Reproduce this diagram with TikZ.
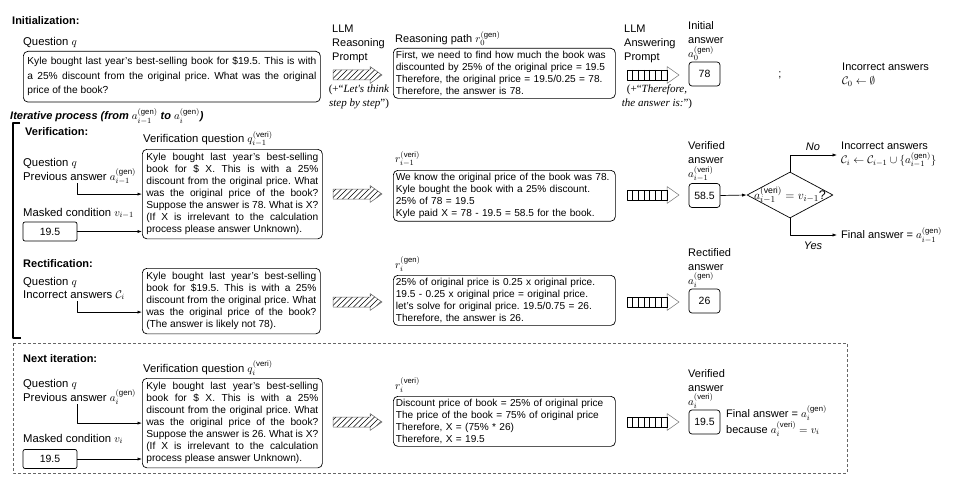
\documentclass[tikz,border=0pt]{standalone}
\usepackage{fontspec}
\setmainfont{Liberation Sans}
\newfontfamily\seriffont{Liberation Serif}
\usetikzlibrary{shapes.geometric,arrows.meta}
\AtBeginDocument{\frenchspacing}
\tikzset{
  hatcharrow/.pic={
    \begin{scope}
      \clip (0,-5) -- (37,-5) -- (37,-8.5) -- (49,0) -- (37,8.5) -- (37,5) -- (0,5) -- cycle;
      \foreach \k in {-16,-10.5,...,50} \draw[line width=0.55pt] (\k,8.5) -- ++(17,-17);
    \end{scope}
    \draw[black!60, line width=0.5pt] (0,-5) -- (37,-5) -- (37,-8.5) -- (49,0) -- (37,8.5) -- (37,5) -- (0,5) -- cycle;
  },
  stripearrow/.pic={
    \draw[black!55, fill=white, line width=0.5pt] (40,-8.5) -- (52,0) -- (40,8.5) -- cycle;
    \draw[line width=0.6pt] (0,-5) rectangle (40,5);
    \foreach \k in {5.7,11.4,...,35} \draw[line width=0.9pt] (\k,-5) -- (\k,5);
    \draw[line width=1pt] (40,-5) -- (40,5);
  },
}
\begin{document}
\begin{tikzpicture}[x=1pt,y=-1pt, line join=round,
  tl/.style={font=\fontsize{11}{14}\selectfont, inner sep=0pt},
  bl/.style={font=\fontsize{11.3}{14}\selectfont, inner sep=0pt},
  mlbl/.style={tl, align=left},
  hdr/.style={font=\fontsize{11}{14}\selectfont\bfseries, inner sep=0pt, anchor=west},
  qbox/.style={draw, rounded corners=4.5pt, line width=0.7pt, font=\fontsize{10.2}{12}\selectfont, align=justify, anchor=north west, inner xsep=4pt, inner ysep=4pt},
  rbox/.style={draw, rounded corners=4.5pt, line width=0.7pt, font=\fontsize{10.1}{11.8}\selectfont, align=left, anchor=north west, inner xsep=2.5pt, inner ysep=3pt, text width=217pt},
  abox/.style={draw, rounded corners=3pt, line width=0.7pt, font=\fontsize{10.5}{12}\selectfont, minimum width=31pt, minimum height=24pt, inner sep=0pt},
  mbox/.style={draw, rounded corners=2pt, line width=0.7pt, font=\fontsize{10.5}{12}\selectfont, minimum width=54pt, minimum height=19pt, inner sep=0pt},
  arr/.style={-{Latex[length=4.5pt,width=3.2pt]}, line width=0.7pt},
  ln/.style={line width=0.7pt},
  quot/.style={font=\seriffont\fontsize{11}{14}\selectfont, inner sep=0pt, align=center, anchor=north},
]
\useasboundingbox (0,0) rectangle (959,487);

% ---------- Initialization ----------
\node[hdr] (hinit) at (12,21) {Initialization:};
\node[bl, anchor=base west] (lq0) at (23,46) {Question $q$};
\node[qbox, text width=289pt, inner ysep=6pt, font=\fontsize{10.2}{14.5}\selectfont] (q0) at (23,51)
 {Kyle bought last year's best-selling book for \$19.5. This is with\linebreak a 25\% discount from the original price. What was the original\linebreak price of the book?};

\node[mlbl, anchor=north west] (llmr) at (332,25) {LLM\\Reasoning\\Prompt};
\pic at (333,75) {hatcharrow};
\node[quot] (cot) at (359,85) {(+“\textit{Let's think}\\\textit{step by step}”)};

\node[tl, anchor=south west] (lr0) at (395,46) {Reasoning path $r_0^{(\mathrm{gen})}$};
\node[rbox] (r0) at (393,48) {First, we need to find how much the book was\\discounted by 25\% of the original price = 19.5\\Therefore, the original price = 19.5/0.25 = 78.\\Therefore, the answer is 78.};

\node[mlbl, anchor=north west] (llma) at (624,25) {LLM\\Answering\\Prompt};
\pic at (627,75) {stripearrow};
\node[quot] (thf) at (657,85) {(+“\textit{Therefore,}\\\textit{the answer is:}”)};

\node[mlbl, anchor=south west] (la0) at (688,61) {Initial\\answer\\$a_0^{(\mathrm{gen})}$};
\node[abox] (a0) at (704.5,74) {78};
\node[tl] (semi) at (780,75) {;};
\node[mlbl, anchor=west] (c0) at (842,75) {Incorrect answers\\$\mathcal{C}_0 \leftarrow \emptyset$};

% ---------- Iterative process ----------
\node[hdr, font=\fontsize{11}{14}\selectfont\bfseries\itshape] (hit) at (10,116) {Iterative process (from $a_{i-1}^{(\mathrm{gen})}$ to $a_i^{(\mathrm{gen})}$)};
\draw[line width=1.5pt] (20,123) -- (13,123) -- (13,338) -- (21,338);

% Verification
\node[hdr] (hver) at (25,132) {Verification:};
\node[bl, anchor=south west] (lvq1) at (143,147) {Verification question $q_{i-1}^{(\mathrm{veri})}$};
\node[bl, anchor=base west] (lq1) at (23,166) {Question $q$};
\node[bl, anchor=base west] (lp1) at (23,180) {Previous answer $a_{i-1}^{(\mathrm{gen})}$};
\node[qbox, text width=172pt] (vq1) at (142,149)
 {Kyle bought last year's best-selling\linebreak book for \$ X. This is with a 25\%\linebreak discount from the original price. What\linebreak was the original price of the book?\linebreak Suppose the answer is 78. What is X?\linebreak (If X is irrelevant to the calculation\linebreak process please answer Unknown).};
\coordinate (p1) at (77,183);
\draw[arr] (p1) |- (vq1.west);
\node[bl, anchor=base west] (lm1) at (23,216) {Masked condition $v_{i-1}$};
\node[mbox] (m1) at (50,231.5) {19.5};
\draw[arr] (m1) -- (m1 -| vq1.west);

\pic at (333,194) {hatcharrow};
\node[tl, anchor=south west] (lr1) at (395,167) {$r_{i-1}^{(\mathrm{veri})}$};
\node[rbox] (r1) at (393,170) {We know the original price of the book was 78.\\Kyle bought the book with a 25\% discount.\\25\% of 78 = 19.5\\Kyle paid X = 78 - 19.5 = 58.5 for the book.};
\pic at (627,195) {stripearrow};
\node[mlbl, anchor=south west] (la1) at (688,182) {Verified\\answer\\$a_{i-1}^{(\mathrm{veri})}$};
\node[abox] (a1) at (704.5,195.5) {58.5};
\node[diamond, draw, ln, minimum width=86pt, minimum height=46pt, inner sep=0pt] (dm) at (790,195) {};
\node[inner sep=0pt, font=\fontsize{12.5}{14}\selectfont] (dmt) at (dm.center) {$a_{i-1}^{(\mathrm{veri})} = v_{i-1}$?};
\draw[arr] (a1.east) -- (dm.west);
\node[mlbl, anchor=west, inner xsep=4pt] (ci) at (837,155) {Incorrect answers\\$\mathcal{C}_i \leftarrow \mathcal{C}_{i-1} \cup \{a_{i-1}^{(\mathrm{gen})}\}$};
\draw[arr] (dm.north) |- (ci.west);
\node[tl, anchor=west, inner xsep=4pt] (fa1) at (837,235) {Final answer = $a_{i-1}^{(\mathrm{gen})}$};
\draw[arr] (dm.south) |- (fa1.west);
\node[tl, font=\fontsize{11}{14}\selectfont\itshape] (no) at (813,147) {No};
\node[tl, font=\fontsize{11}{14}\selectfont\itshape] (yes) at (813,246) {Yes};

% Rectification
\node[hdr] (hrec) at (23,264) {Rectification:};
\node[bl, anchor=base west] (lq2) at (23,285) {Question $q$};
\node[bl, anchor=base west] (lc2) at (23,298) {Incorrect answers $\mathcal{C}_i$};
\node[qbox, text width=170pt] (rq) at (142,268)
 {Kyle bought last year's best-selling\linebreak book for \$19.5. This is with a 25\%\linebreak discount from the original price. What\linebreak was the original price of the book?\linebreak (The answer is likely not 78).};
\coordinate (p2) at (77,301);
\path (rq.west) ++(0,11) coordinate (rqin);
\draw[arr] (p2) |- (rqin);

\pic at (333,302) {hatcharrow};
\node[tl, anchor=south west] (lr2) at (395,272) {$r_i^{(\mathrm{gen})}$};
\node[rbox] (r2) at (393,275) {25\% of original price is 0.25 x original price.\\19.5 - 0.25 x original price = original price.\\let's solve for original price. 19.5/0.75 = 26.\\Therefore, the answer is 26.};
\pic at (627,302) {stripearrow};
\node[mlbl, anchor=south west] (la2) at (688,288) {Rectified\\answer\\$a_i^{(\mathrm{gen})}$};
\node[abox] (a2) at (704.5,301) {26};

% ---------- Next iteration ----------
\draw[dash pattern=on 3pt off 2pt, black!60, line width=0.7pt] (13,343) rectangle (847,473);
\node[hdr] (hnext) at (23,359) {Next iteration:};
\node[bl, anchor=south west] (lvq3) at (143,376) {Verification question $q_i^{(\mathrm{veri})}$};
\node[bl, anchor=base west] (lq3) at (23,387) {Question $q$};
\node[bl, anchor=base west] (lp3) at (23,401) {Previous answer $a_i^{(\mathrm{gen})}$};
\node[qbox, text width=172pt] (vq3) at (142,378)
 {Kyle bought last year's best-selling\linebreak book for \$ X. This is with a 25\%\linebreak discount from the original price. What\linebreak was the original price of the book?\linebreak Suppose the answer is 26. What is X?\linebreak (If X is irrelevant to the calculation\linebreak process please answer Unknown).};
\coordinate (p3) at (77,404);
\draw[arr] (p3) |- (vq3.west);
\node[bl, anchor=base west] (lm3) at (23,442) {Masked condition $v_i$};
\node[mbox] (m3) at (50,459) {19.5};
\draw[arr] (m3) -- (m3 -| vq3.west);

\pic at (333,422) {hatcharrow};
\node[tl, anchor=south west] (lr3) at (395,393) {$r_i^{(\mathrm{veri})}$};
\node[rbox] (r3) at (393,396) {Discount price of book = 25\% of original price\\The price of the book = 75\% of original price\\Therefore, X = (75\% * 26)\\Therefore, X = 19.5};
\pic at (627,422) {stripearrow};
\node[mlbl, anchor=south west] (la3) at (688,409) {Verified\\answer\\$a_i^{(\mathrm{veri})}$};
\node[abox] (a3) at (704.5,422) {19.5};
\node[mlbl, anchor=west] (fa3) at (726,421) {Final answer = $a_i^{(\mathrm{gen})}$\\because $a_i^{(\mathrm{veri})} = v_i$};
\end{tikzpicture}
\end{document}
